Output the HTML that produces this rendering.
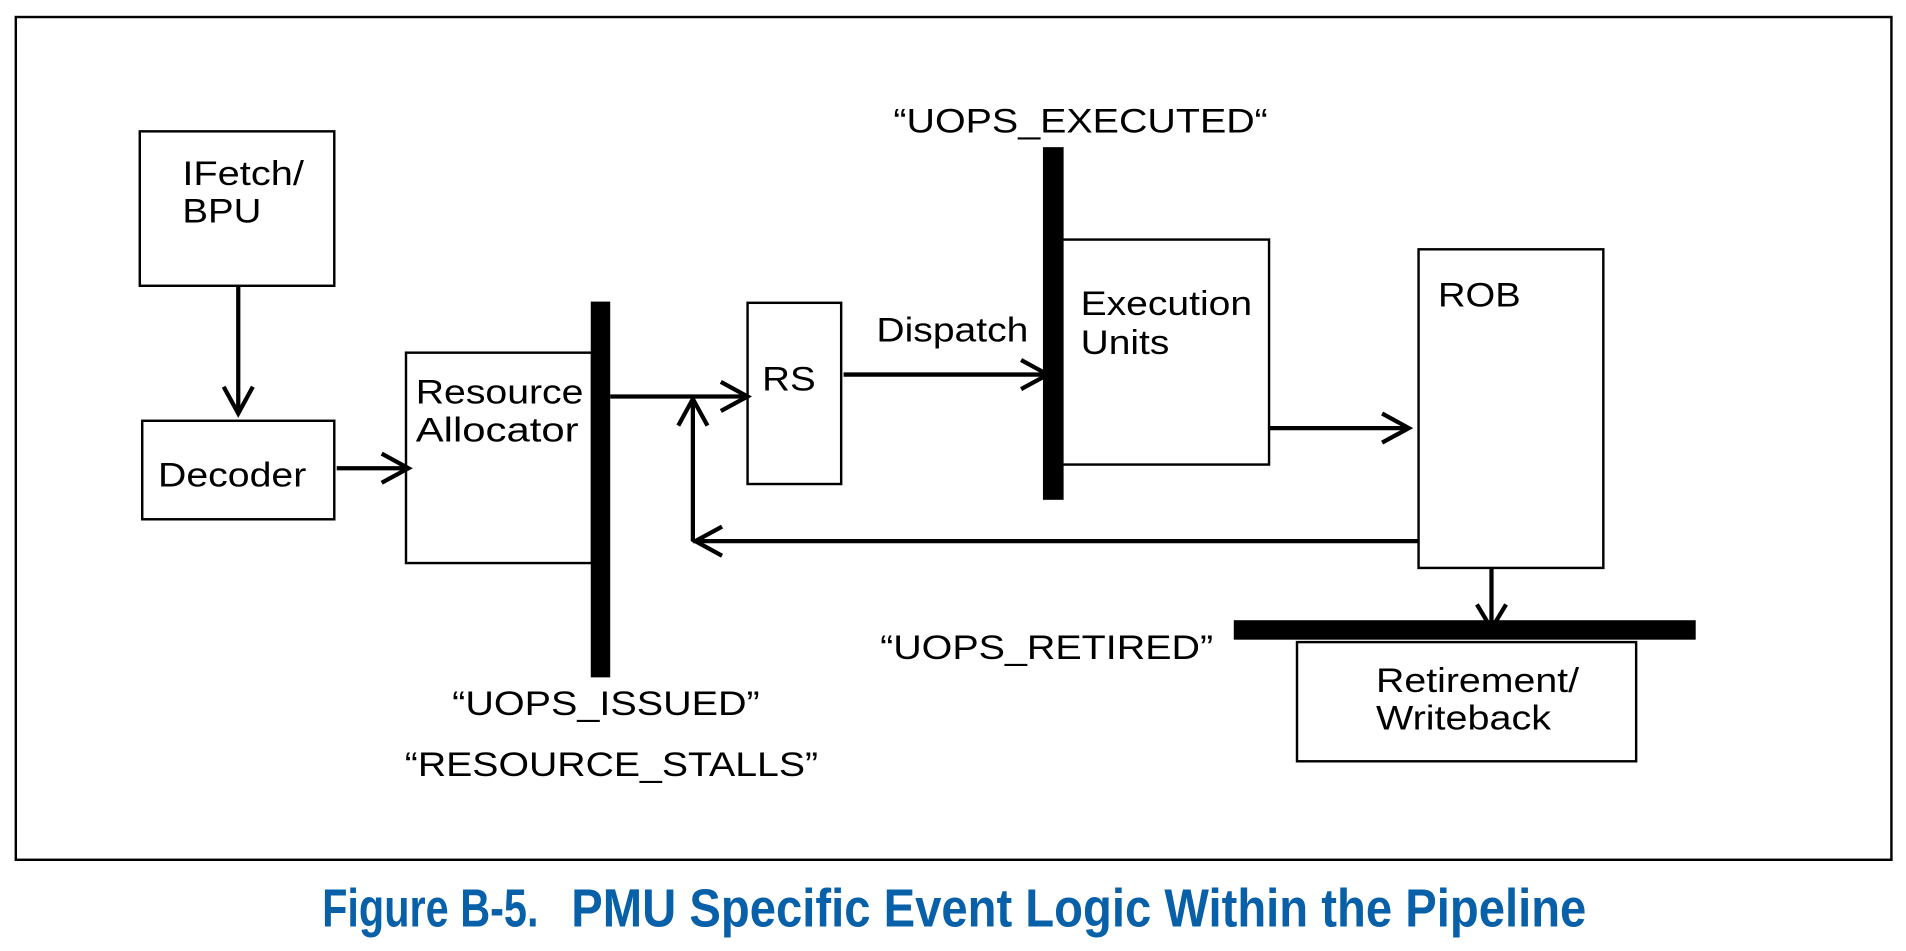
<!DOCTYPE html>
<html><head><style>html,body{margin:0;padding:0;background:#fff;}svg{display:block}</style></head>
<body>
<svg width="1906" height="951" viewBox="0 0 1568 782" preserveAspectRatio="none" xmlns="http://www.w3.org/2000/svg" font-family="Liberation Sans, sans-serif">
<rect x="13" y="14" width="1543" height="693" fill="#fff" stroke="#000" stroke-width="2"/>
<g fill="#fff" stroke="#000" stroke-width="2">
<rect x="115" y="108" width="160" height="127"/>
<rect x="117" y="346" width="158" height="81"/>
<rect x="334" y="290" width="153" height="173"/>
<rect x="615" y="249" width="77" height="149"/>
<rect x="873" y="197" width="171" height="185"/>
<rect x="1167" y="205" width="152" height="262"/>
<rect x="1067" y="528" width="279" height="98"/>
</g>
<g fill="#000">
<rect x="486" y="248" width="16" height="309"/>
<rect x="858" y="121" width="17" height="290"/>
<rect x="1015" y="510" width="380" height="16"/>
</g>
<g stroke="#000" stroke-width="3.5" fill="none">
<line x1="196" y1="235" x2="196" y2="338"/><polyline points="184,318 196,340 208,318"/>
<line x1="277" y1="385" x2="334" y2="385"/><polyline points="314,373 336,385 314,397"/>
<line x1="502" y1="326" x2="613" y2="326"/><polyline points="593,314 615,326 593,338"/>
<line x1="694" y1="308" x2="860" y2="308"/><polyline points="840,296 862,308 840,320"/>
<line x1="1044" y1="352" x2="1157" y2="352"/><polyline points="1137,340 1159,352 1137,364"/>
<line x1="1167" y1="445" x2="570" y2="445"/><polyline points="594,433 572,445 594,457"/>
<line x1="570" y1="445" x2="570" y2="330"/><polyline points="558,350 570,328 582,350"/>
<line x1="1227" y1="467" x2="1227" y2="515"/><polyline points="1215,497 1227,517 1239,497"/>
</g>
<g font-size="28" fill="#000">
<text x="150" y="152" textLength="100" lengthAdjust="spacingAndGlyphs">IFetch/</text>
<text x="150" y="183" textLength="65" lengthAdjust="spacingAndGlyphs">BPU</text>
<text x="130" y="400" textLength="122" lengthAdjust="spacingAndGlyphs">Decoder</text>
<text x="342" y="332" textLength="138" lengthAdjust="spacingAndGlyphs">Resource</text>
<text x="342" y="363" textLength="134" lengthAdjust="spacingAndGlyphs">Allocator</text>
<text x="627" y="321" textLength="44" lengthAdjust="spacingAndGlyphs">RS</text>
<text x="721" y="281" textLength="125" lengthAdjust="spacingAndGlyphs">Dispatch</text>
<text x="889" y="259" textLength="141" lengthAdjust="spacingAndGlyphs">Execution</text>
<text x="889" y="291" textLength="73" lengthAdjust="spacingAndGlyphs">Units</text>
<text x="1183" y="252" textLength="68" lengthAdjust="spacingAndGlyphs">ROB</text>
<text x="1132" y="569" textLength="167" lengthAdjust="spacingAndGlyphs">Retirement/</text>
<text x="1132" y="600" textLength="144" lengthAdjust="spacingAndGlyphs">Writeback</text>
<text x="735" y="109" textLength="308" lengthAdjust="spacingAndGlyphs">“UOPS_EXECUTED“</text>
<text x="372" y="588" textLength="253" lengthAdjust="spacingAndGlyphs">“UOPS_ISSUED”</text>
<text x="333" y="638" textLength="340" lengthAdjust="spacingAndGlyphs">“RESOURCE_STALLS”</text>
<text x="724" y="542" textLength="274" lengthAdjust="spacingAndGlyphs">“UOPS_RETIRED”</text>
</g>
<g font-size="44" font-weight="bold" fill="#0860a8">
<text x="265" y="762" textLength="178" lengthAdjust="spacingAndGlyphs">Figure B-5.</text>
<text x="470" y="762" textLength="835" lengthAdjust="spacingAndGlyphs">PMU Specific Event Logic Within the Pipeline</text>
</g>
</svg>
</body></html>
